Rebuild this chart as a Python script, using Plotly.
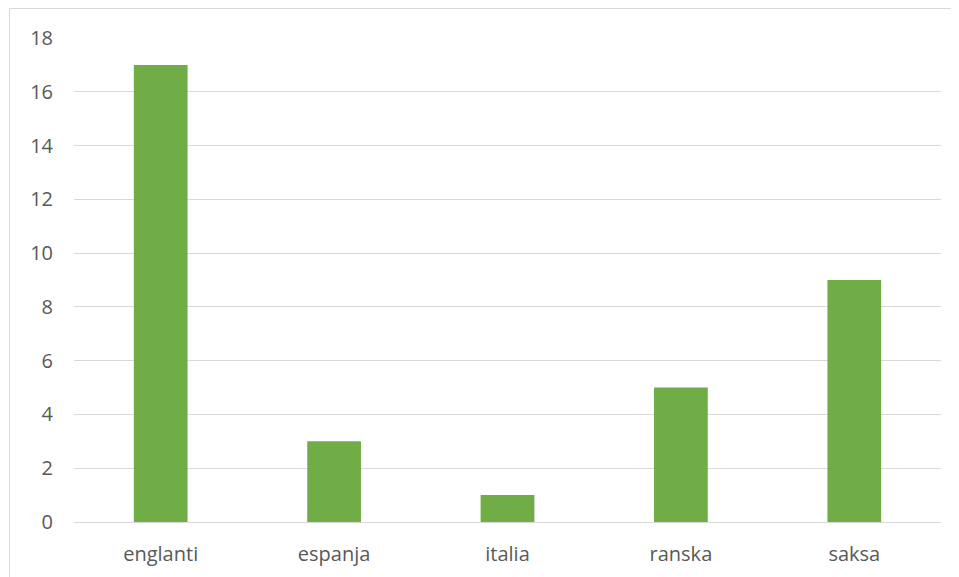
import plotly.graph_objects as go

categories = ["englanti", "espanja", "italia", "ranska", "saksa"]
values = [17, 3, 1, 5, 9]
y_ticks = [0, 2, 4, 6, 8, 10, 12, 14, 16, 18]

# page body has an 8px margin, so the figure is drawn 8px smaller and offset
OFF = 8
W, H = 959 - OFF, 577 - OFF
L, R, T, B = 74 - OFF, 18, 38 - OFF, 55
pw, ph = W - L - R, H - T - B

def px_to_paper_x(px):
    return (px - OFF - L) / pw

def py_to_paper_y(py):
    return (H - B - (py - OFF)) / ph

fig = go.Figure(go.Bar(x=categories, y=values, marker=dict(color="#70AD47", line=dict(width=0))))

fig.update_layout(
    width=W, height=H,
    margin=dict(l=L, r=R, t=T, b=B, pad=0, autoexpand=False),
    paper_bgcolor="white", plot_bgcolor="white",
    bargap=0.69,
    showlegend=False,
    font=dict(family="Open Sans, Noto Sans, sans-serif", size=20, color="#595959"),
    xaxis=dict(showgrid=False, showline=False, ticks="", ticklabelstandoff=18, automargin=False,
               tickfont=dict(size=20, color="#595959")),
    yaxis=dict(range=[0, 18], tickvals=y_ticks, showgrid=True, gridcolor="#D9D9D9", gridwidth=1,
               zeroline=True, zerolinecolor="#D9D9D9", zerolinewidth=1, showline=False, ticks="",
               automargin=False,
               ticklabelstandoff=20, tickfont=dict(size=20, color="#595959")),
    shapes=[dict(type="rect", xref="paper", yref="paper",
                 x0=px_to_paper_x(9.5), x1=px_to_paper_x(975),
                 y0=py_to_paper_y(590), y1=py_to_paper_y(8.5),
                 line=dict(color="#D9D9D9", width=1), fillcolor="rgba(0,0,0,0)", layer="below")],
)

fig.write_html("out.html")
